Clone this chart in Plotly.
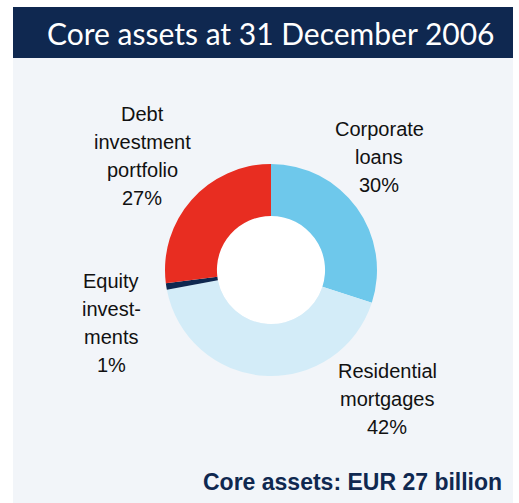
import plotly.graph_objects as go

# Core asset breakdown (per cent of total)
categories = ["Corporate loans", "Residential mortgages", "Equity investments", "Debt investment portfolio"]
shares = [30, 42, 1, 27]
# how each category name is broken over lines in its label
label_lines = [
    ["Corporate", "loans"],
    ["Residential", "mortgages"],
    ["Equity", "invest-", "ments"],
    ["Debt", "investment", "portfolio"],
]
colors = ["#6ec8eb", "#d3ecf8", "#0f2850", "#e82d21"]
title_text = "Core assets at 31 December 2006"
footer_text = "Core assets: EUR 27 billion"

W, H = 519, 503


def px(x):
    return x / W


def py(y):
    return 1 - y / H


# donut geometry (pixels)
cx, cy, r = 271, 270, 106
hole = 0.51

fig = go.Figure()
fig.add_trace(go.Pie(
    labels=categories,
    values=shares,
    sort=False,
    direction="clockwise",
    rotation=0,
    hole=hole,
    marker=dict(colors=colors, line=dict(width=0)),
    textinfo="none",
    hoverinfo="label+percent",
    showlegend=False,
    domain=dict(x=[px(cx - r), px(cx + r)], y=[py(cy + r), py(cy - r)]),
))

shapes = [
    # panel background
    dict(type="rect", xref="paper", yref="paper", x0=px(13), x1=px(513), y0=0, y1=py(7),
         fillcolor="#f2f5f9", line=dict(width=0), layer="below"),
    # title band
    dict(type="rect", xref="paper", yref="paper", x0=px(13), x1=px(513), y0=py(58), y1=py(7),
         fillcolor="#0f2850", line=dict(width=0), layer="below"),
    # white centre of the donut
    dict(type="circle", xref="paper", yref="paper",
         x0=px(cx - r * hole), x1=px(cx + r * hole), y0=py(cy + r * hole), y1=py(cy - r * hole),
         fillcolor="white", line=dict(width=0), layer="below"),
]

annotations = [
    dict(text=title_text, x=px(270), y=py(33), xref="paper", yref="paper",
         showarrow=False, xanchor="center", yanchor="middle",
         font=dict(family="Lato", size=30, color="white")),
    dict(text="<b>" + footer_text + "</b>", x=px(504), y=py(482), xref="paper", yref="paper",
         showarrow=False, xanchor="right", yanchor="middle",
         font=dict(family="Liberation Sans, Arial", size=23, color="#0f2850")),
]

# label anchor: centre x and first-line y, in pixels
label_pos = [(379, 129), (387, 371), (111, 281), (142, 114)]
line_gap = 28
for lines, val, (lx, ly) in zip(label_lines, shares, label_pos):
    for i, t in enumerate(lines + [f"{val}%"]):
        annotations.append(dict(
            text=t, x=px(lx), y=py(ly + i * line_gap), xref="paper", yref="paper",
            showarrow=False, xanchor="center", yanchor="middle",
            font=dict(family="Liberation Sans, Arial", size=20, color="#111111"),
        ))

fig.update_layout(
    width=W, height=H,
    margin=dict(l=0, r=0, t=0, b=0),
    paper_bgcolor="white",
    plot_bgcolor="white",
    shapes=shapes,
    annotations=annotations,
)

fig.write_html("out.html", include_plotlyjs=True, config={"displayModeBar": False})
